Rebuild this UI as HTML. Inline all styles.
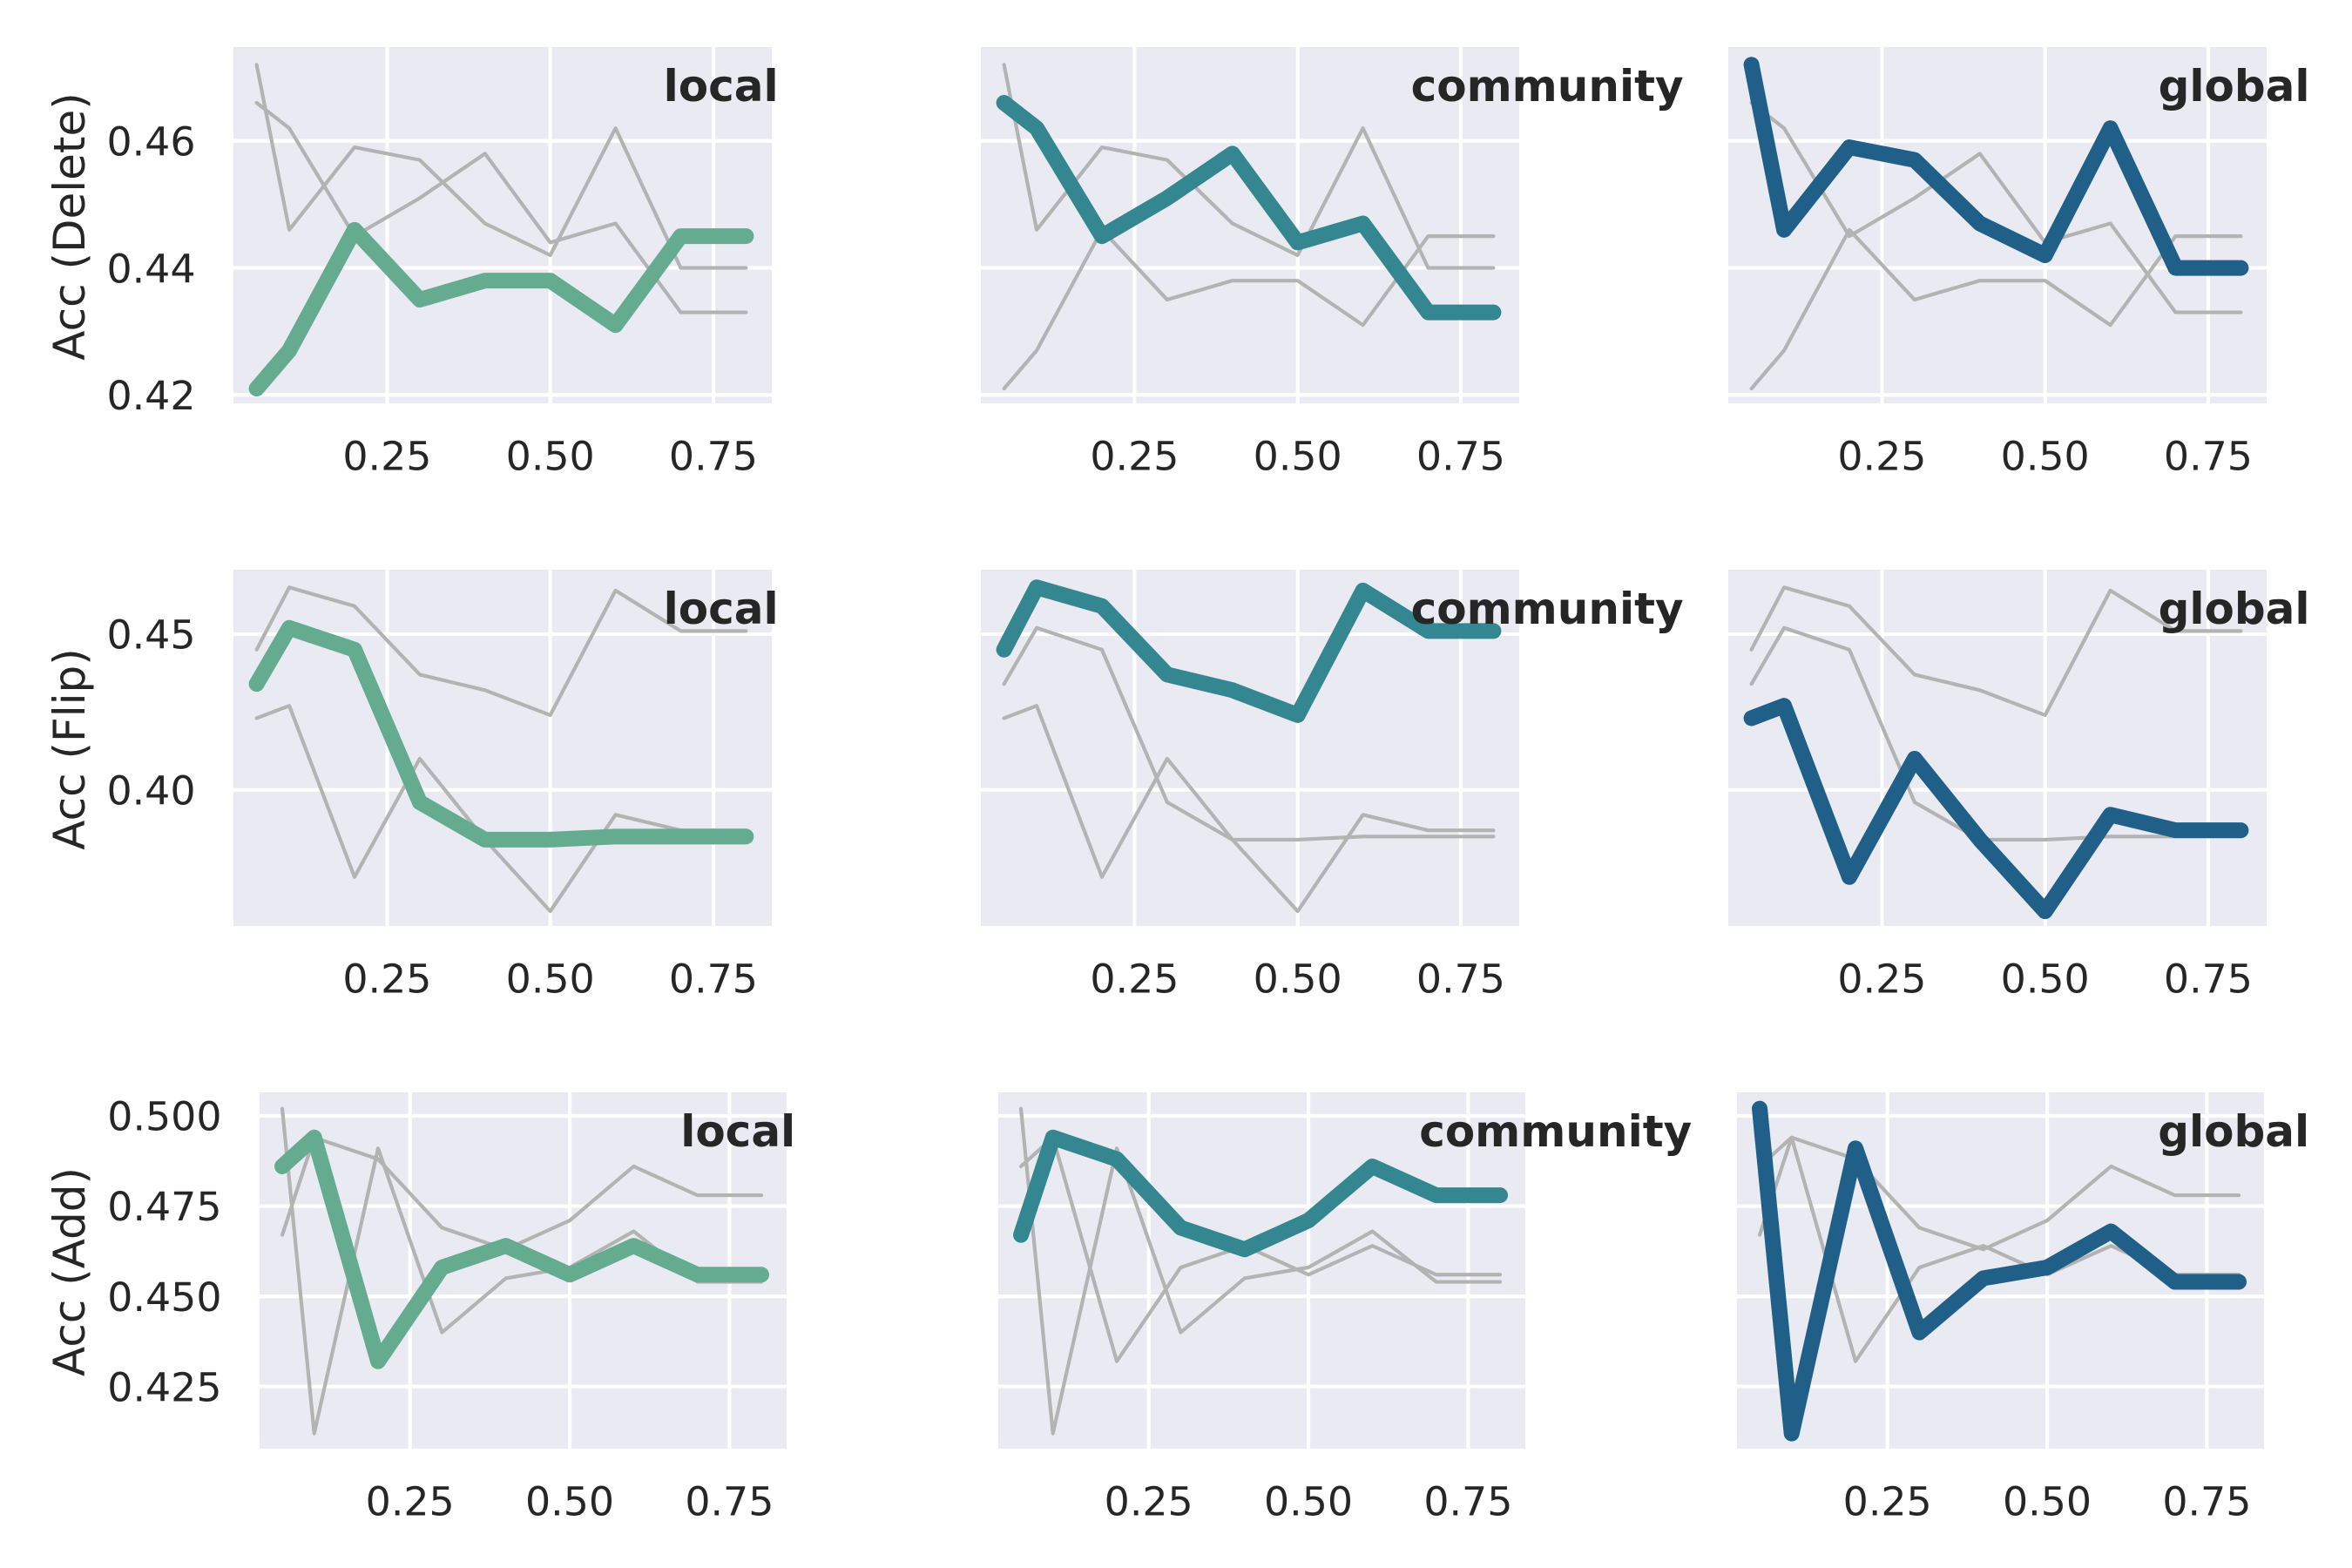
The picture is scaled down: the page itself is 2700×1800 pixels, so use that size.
<!DOCTYPE html>
<html>
<head>
<meta charset="utf-8">
<title>Accuracy small multiples</title>
<style>
html,body{margin:0;padding:0;background:#fff;}
svg{display:block;}
text{font-family:"DejaVu Sans","Liberation Sans",sans-serif;fill:#262626;}
</style>
</head>
<body>
<svg id="chart" xmlns="http://www.w3.org/2000/svg" width="2700" height="1800" viewBox="0 0 2700 1800"></svg>
<script>
const xValues = [0.05, 0.1, 0.2, 0.3, 0.4, 0.5, 0.6, 0.7, 0.8];
const xTicks = [0.25, 0.5, 0.75];
const xTickLabels = ["0.25", "0.50", "0.75"];
const xDomain = [0.0145, 0.8395];

const scopes = ["local", "community", "global"];
const rowLabels = ["Acc (Delete)", "Acc (Flip)", "Acc (Add)"];

const deleteLocal = [0.421, 0.427, 0.446, 0.435, 0.438, 0.438, 0.431, 0.445, 0.445];
const deleteCommunity = [0.466, 0.462, 0.445, 0.451, 0.458, 0.444, 0.447, 0.433, 0.433];
const deleteGlobal = [0.472, 0.446, 0.459, 0.457, 0.447, 0.442, 0.462, 0.44, 0.44];

const flipLocal = [0.434, 0.452, 0.445, 0.396, 0.384, 0.384, 0.385, 0.385, 0.385];
const flipCommunity = [0.445, 0.465, 0.459, 0.437, 0.432, 0.424, 0.464, 0.451, 0.451];
const flipGlobal = [0.423, 0.427, 0.372, 0.41, 0.384, 0.361, 0.392, 0.387, 0.387];

const addLocal = [0.486, 0.494, 0.432, 0.458, 0.464, 0.456, 0.464, 0.456, 0.456];
const addCommunity = [0.467, 0.494, 0.488, 0.469, 0.463, 0.471, 0.486, 0.478, 0.478];
const addGlobal = [0.502, 0.412, 0.491, 0.44, 0.455, 0.458, 0.468, 0.454, 0.454];

const deleteTicks = [0.42, 0.44, 0.46];
const deleteTickLabels = ["0.42", "0.44", "0.46"];
const deleteDomain = [0.41868, 0.47478];
const flipTicks = [0.40, 0.45];
const flipTickLabels = ["0.40", "0.45"];
const flipDomain = [0.35628, 0.47068];
const addTicks = [0.425, 0.45, 0.475, 0.5];
const addTickLabels = ["0.425", "0.450", "0.475", "0.500"];
const addDomain = [0.4078, 0.5065];

const rowSeries = [
  [deleteLocal, deleteCommunity, deleteGlobal],
  [flipLocal, flipCommunity, flipGlobal],
  [addLocal, addCommunity, addGlobal]
];
const rowTicks = [deleteTicks, flipTicks, addTicks];
const rowTickLabels = [deleteTickLabels, flipTickLabels, addTickLabels];
const rowDomains = [deleteDomain, flipDomain, addDomain];

const accentColors = ["#64ab90", "#348690", "#1f5f88"];

const NS = "http://www.w3.org/2000/svg";
const svg = document.getElementById("chart");
const panelTops = [54, 654, 1254];
const panelHeight = 409;
const panelLefts = [[268, 1126, 1984], [268, 1126, 1984], [298, 1146, 1994]];
const panelWidths = [618, 618, 605];

function make(tag, parent, attrs, text) {
  const el = document.createElementNS(NS, tag);
  for (const k in attrs) el.setAttribute(k, attrs[k]);
  if (text !== undefined) el.textContent = text;
  parent.appendChild(el);
  return el;
}

rowSeries.forEach(function (series, r) {
  const top = panelTops[r];
  const bottom = top + panelHeight;
  const domain = rowDomains[r];
  const yScale = function (v) {
    return bottom - (v - domain[0]) / (domain[1] - domain[0]) * panelHeight;
  };

  const titleCenter = top + panelHeight / 2 + 1.5;
  const yTitle = make("text", svg, {
    x: 97, y: titleCenter, "text-anchor": "middle", "font-size": 50,
    transform: "rotate(-90 97 " + titleCenter + ")"
  }, rowLabels[r]);
  
  

  scopes.forEach(function (scope, c) {
    const left = panelLefts[r][c];
    const width = panelWidths[r];
    const xScale = function (v) {
      return left + (v - xDomain[0]) / (xDomain[1] - xDomain[0]) * width;
    };

    const g = make("g", svg, {});
    
    

    const bg = make("rect", g, { x: left, y: top, width: width, height: panelHeight, fill: "#eaeaf2" });
    
    

    xTicks.forEach(function (t, i) {
      const px = xScale(t);
      const gl = make("line", g, { x1: px, x2: px, y1: top, y2: bottom, stroke: "#fff", "stroke-width": 4.17 });
      
      
      const lab = make("text", g, { x: px, y: bottom + 76.5, "text-anchor": "middle", "font-size": 45.83 }, xTickLabels[i]);
      
      
    });

    rowTicks[r].forEach(function (t, i) {
      const py = yScale(t);
      const gl = make("line", g, { x1: left, x2: left + width, y1: py, y2: py, stroke: "#fff", "stroke-width": 4.17 });
      
      
      if (c === 0) {
        const lab = make("text", g, { x: left - 43.5, y: py + 16.7, "text-anchor": "end", "font-size": 45.83 }, rowTickLabels[r][i]);
        
        
      }
    });

    const toPoints = function (vals) {
      return vals.map(function (v, i) {
        return xScale(xValues[i]).toFixed(2) + "," + yScale(v).toFixed(2);
      }).join(" ");
    };

    series.forEach(function (vals, s) {
      if (s === c) return;
      const ln = make("polyline", g, {
        points: toPoints(vals), fill: "none", stroke: "#b3b3b3", "stroke-width": 4.17,
        "stroke-linecap": "round", "stroke-linejoin": "round"
      });
      
      
    });

    const main = make("polyline", g, {
      points: toPoints(series[c]), fill: "none", stroke: accentColors[c], "stroke-width": 18,
      "stroke-linecap": "round", "stroke-linejoin": "round"
    });
    
    

    const title = make("text", g, {
      x: left + 0.8 * width - 0.8, y: top + 62, "font-size": 50, "font-weight": "bold"
    }, scope);
    
    
  });
});
</script>
</body>
</html>
